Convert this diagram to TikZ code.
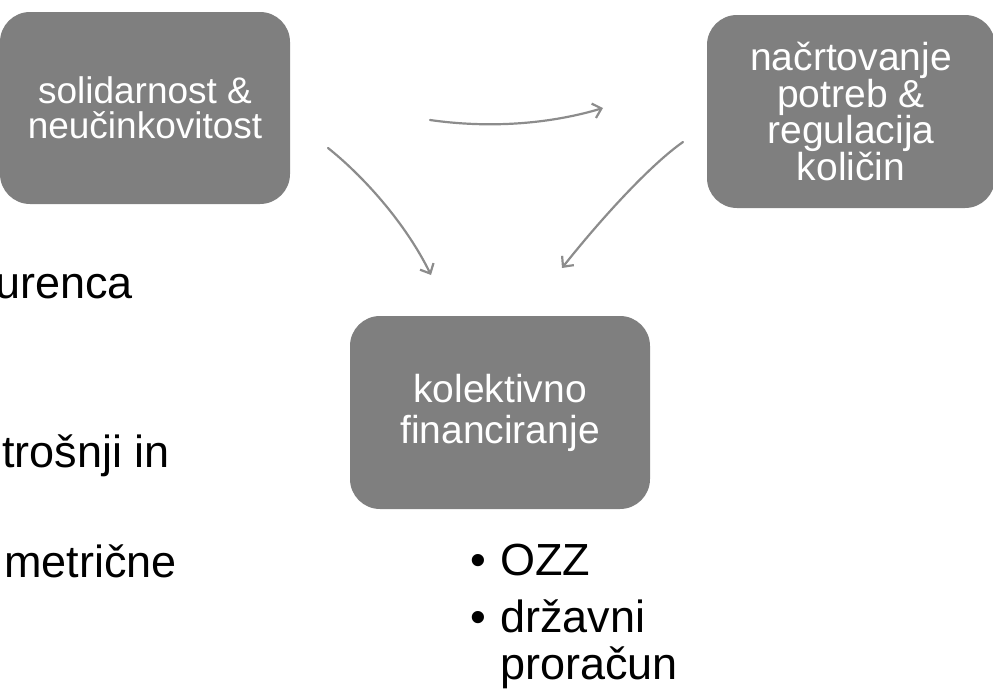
\documentclass[tikz,border=0pt]{standalone}
\usepackage{fontspec}
\setmainfont{Liberation Sans}
\usetikzlibrary{arrows.meta}
\definecolor{boxgray}{HTML}{7F7F7F}
\definecolor{arrgray}{HTML}{8C8C8C}

\begin{document}
\begin{tikzpicture}[x=1pt, y=-1pt,
    box/.style={rectangle, rounded corners=30pt, fill=boxgray, text=white,
      align=center, inner sep=0pt},
    arr/.style={arrgray, line width=2.2pt, line cap=round,
      -{Straight Barb[length=8pt, width=15pt]}},
    item/.style={anchor=base west, inner sep=0pt, font=\fontsize{45}{48}\selectfont}]
  \useasboundingbox (0,0) rectangle (993,696);
  \clip (0,0) rectangle (993,696);
  % the three boxes
  \node[box, minimum width=290pt, minimum height=192pt,
    font=\fontsize{37}{35.5}\selectfont] (solid) at (145,108)
    {solidarnost \&\\ neučinkovitost};
  \node[box, minimum width=288pt, minimum height=193pt,
    font=\fontsize{39}{36.7}\selectfont] (plan) at (851,111.5)
    {načrtovanje\\ potreb \&\\ regulacija\\ količin};
  \node[box, minimum width=300pt, minimum height=193pt,
    font=\fontsize{39}{41}\selectfont] (fin) at (500,412.5)
    {kolektivno\\ financiranje};
  % sketched arrows
  \coordinate (topS) at (430,120);
  \coordinate (topE) at (603,108);
  \coordinate (leftS) at (328,148);
  \coordinate (leftE) at (431,275);
  \coordinate (rightS) at (683,142);
  \coordinate (rightE) at (562,268);
  \draw[arr] (topS) .. controls (500,130) and (560,121) .. (topE);
  \draw[arr] (leftS) .. controls (362,175) and (405,222) .. (leftE);
  \draw[arr] (rightS) .. controls (650,165) and (600,220) .. (rightE);
  % text cut off at the left edge
  \node[item] (konk) at (-5,298) {urenca};
  \node[item] (potr) at (2,467) {trošnji in};
  \node[item] (asim) at (4,577) {metrične};
  % bullet list below the bottom box
  \node[item] (b1) at (470,575) {•};
  \node[item] (ozz) at (500,575) {OZZ};
  \node[item] (b2) at (470,632) {•};
  \node[item] (drz) at (500,632) {državni};
  \node[item] (pror) at (500,679) {proračun};
\end{tikzpicture}
\end{document}
